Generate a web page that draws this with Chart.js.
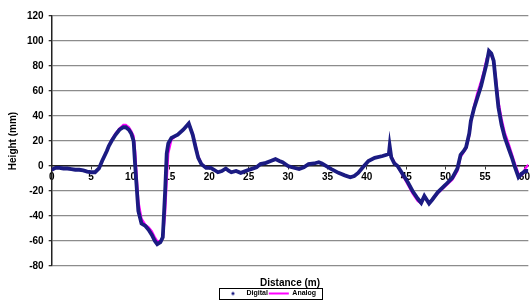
<!DOCTYPE html>
<html>
<head>
<meta charset="utf-8">
<script src="https://cdn.jsdelivr.net/npm/chart.js@4"></script>
<style>
  html, body { margin: 0; padding: 0; background: #fff; }
  #wrap { width: 532px; height: 307px; }
</style>
</head>
<body>
<div id="wrap"><canvas id="chartCanvas"></canvas></div>
<script>
const distance = [0, 0.5, 1, 1.5, 2, 2.5, 3, 3.5, 4, 4.5, 5, 5.5, 6, 6.4, 7, 7.25, 7.6, 8.1, 8.6, 9.1,
  9.4, 9.8, 10.1, 10.4, 10.6, 11, 11.4, 11.9, 12.3, 12.7, 13.1, 13.4, 13.8, 14.1, 14.2, 14.4, 14.6, 14.8, 15.2, 16,
  16.7, 17.4, 17.9, 18.3, 18.6, 19, 19.6, 20.2, 20.6, 21.1, 21.6, 22.1, 22.5, 22.8, 23.4, 24, 24.6, 25.3, 26, 26.5,
  27.2, 27.8, 28.4, 28.9, 29.3, 30, 30.5, 31.4, 32, 32.6, 33.3, 33.9, 34.3, 34.7, 35.5, 36.4, 37.2, 37.9, 38.4, 38.9,
  39.5, 40.2, 41, 42, 42.5, 42.8, 42.9, 43.1, 43.5, 43.9, 44.5, 45.2, 45.8, 46.45, 46.9, 47.3, 47.9, 48.3, 49, 50,
  50.85, 51.5, 51.9, 52.3, 52.6, 53, 53.2, 53.6, 54, 54.5, 54.85, 55.2, 55.5, 55.8, 56.1, 56.4, 56.7, 57.1, 57.5, 58,
  58.4, 58.8, 59.25, 59.7, 60.1, 60.5];

const digital = [-3, -1.5, -1.5, -2, -2, -2.5, -3, -3, -3.5, -4.5, -5, -5, -2, 4, 12, 16, 20, 25, 29, 31,
  31, 29, 26, 20, 0, -36, -46, -48, -51, -55, -60, -62.5, -61, -57, -45, -20, 10, 18, 22.5, 25,
  29, 34, 25, 14, 6.5, 1.5, -1.5, -1.5, -3, -5, -4, -2, -4, -5, -4, -5.5, -4, -2.5, -1, 1.5,
  2.5, 4, 5.5, 4, 3, 0, -1, -2.5, -1, 1.5, 2, 3, 2, 0.5, -2.5, -5.5, -7.5, -9, -8, -5.5,
  -1, 4, 6.5, 8, 9, 10, 16, 7, 2, 0, -6, -13, -20, -26, -29.5, -24, -30, -27, -21, -15,
  -9.5, -2, 9, 12, 15, 26, 36, 46, 54, 64, 73, 82, 92, 90, 84, 65, 47, 33, 23, 14,
  7, -1, -9, -6, -4, -4];

const analog = [-3, -1.5, -1.5, -2, -2, -2.5, -3, -3, -3.5, -4.5, -5, -5, -2, 4, 12, 16, 21, 26, 30, 33,
  33, 31, 28, 24, 12, -28, -42, -47, -49, -52, -57, -60, -60, -58, -52, -38, -12, 10, 21, 25,
  29, 34, 26, 16, 8, 2, -1.5, -1.5, -3, -5, -4, -2, -4, -5, -4, -5.5, -4, -2.5, -1, 1.5,
  2.5, 4, 5.5, 4, 3, 0, -1, -2.5, -1, 1.5, 2, 3, 2, 0.5, -2.5, -5.5, -7.5, -9, -8, -5.5,
  -1, 4, 6.5, 8, 9, 9.5, 10, 8, 3, 0, -7, -15, -22, -28, -30, -25, -30, -27, -22, -16,
  -11, -4, 7, 11, 14, 24, 34, 48, 58, 68, 76, 86, 90, 88, 84, 70, 52, 38, 27, 18,
  10, 2, -6, -7, -2, 1];

const seriesNames = ['Digital', 'Analog'];
const digitalColor = '#1b1b82';
const analogColor = '#ff00ff';

const toPoints = ys => distance.map((x, i) => ({ x: x, y: ys[i] }));

// small dot image for the Digital legend entry
const dot = document.createElement('canvas');
dot.width = 20; dot.height = 6;
const dctx = dot.getContext('2d');
dctx.fillStyle = digitalColor;
dctx.beginPath(); dctx.arc(10, 3, 1.6, 0, Math.PI * 2); dctx.fill();

const legendBox = {
  id: 'legendBox',
  afterDraw(chart) {
    const boxes = chart.legend.legendHitBoxes;
    if (!boxes || !boxes.length) return;
    const left = Math.min(...boxes.map(b => b.left)) - 4;
    const right = Math.max(...boxes.map(b => b.left + b.width)) + 6;
    const top = boxes[0].top - 2;
    const h = boxes[0].height + 4;
    const c = chart.ctx;
    c.save();
    c.strokeStyle = '#000';
    c.lineWidth = 1;
    c.strokeRect(Math.round(left) + 0.5, Math.round(top) + 0.5, Math.round(right - left), Math.round(h));
    c.restore();
  }
};

const ctx = document.getElementById('chartCanvas').getContext('2d');
const boldFont = { family: '"Liberation Sans", Arial, sans-serif', size: 10, weight: 'bold' };

const chart = new Chart(ctx, {
  type: 'line',
  data: {
    datasets: [{
      label: seriesNames[0],
      data: toPoints(digital),
      borderColor: digitalColor,
      backgroundColor: digitalColor,
      borderWidth: 3.8,
      pointRadius: 0,
      tension: 0
    }, {
      label: seriesNames[1],
      data: toPoints(analog),
      borderColor: analogColor,
      backgroundColor: analogColor,
      borderWidth: 2.2,
      pointRadius: 0,
      tension: 0
    }]
  },
  options: {
    responsive: true,
    maintainAspectRatio: false,
    animation: false,
    layout: { padding: { left: 7, top: 16, right: 0, bottom: 0 } },
    plugins: {
      tooltip: { enabled: false },
      legend: {
        position: 'bottom',
        labels: {
          font: { family: '"Liberation Sans", Arial, sans-serif', size: 7, weight: 'bold' },
          color: '#000',
          usePointStyle: true,
          pointStyleWidth: 20,
          padding: 1,
          generateLabels: () => [
            { text: seriesNames[0], pointStyle: dot, fillStyle: digitalColor, strokeStyle: digitalColor, lineWidth: 0, datasetIndex: 0 },
            { text: seriesNames[1], pointStyle: 'line', fillStyle: analogColor, strokeStyle: analogColor, lineWidth: 2, datasetIndex: 1 }
          ]
        }
      }
    },
    scales: {
      x: {
        type: 'linear',
        min: 0,
        max: 60.5,
        position: { y: 0 },
        ticks: { stepSize: 5, includeBounds: false, font: boldFont, color: '#000', padding: 2, maxRotation: 0, autoSkip: false },
        grid: { drawOnChartArea: false, drawTicks: true, tickLength: 3, tickColor: '#333' },
        border: { color: '#222', width: 1.5 }
      },
      xt: {
        type: 'linear',
        min: 0,
        max: 60.5,
        position: 'bottom',
        ticks: { display: false },
        grid: { display: false },
        border: { display: false },
        title: { display: true, text: 'Distance (m)', font: boldFont, color: '#000', padding: { top: 3, bottom: 0 } }
      },
      y: {
        min: -80,
        max: 120,
        ticks: { stepSize: 20, font: boldFont, color: '#000', padding: 5 },
        grid: { color: '#8c8c8c', lineWidth: 1.3, tickLength: 3, tickColor: '#333' },
        border: { color: '#222', width: 1.5 },
        title: { display: true, text: 'Height (mm)', font: boldFont, color: '#000', padding: { top: 0, bottom: 3 } }
      }
    }
  },
  plugins: [legendBox]
});
</script>
</body>
</html>
